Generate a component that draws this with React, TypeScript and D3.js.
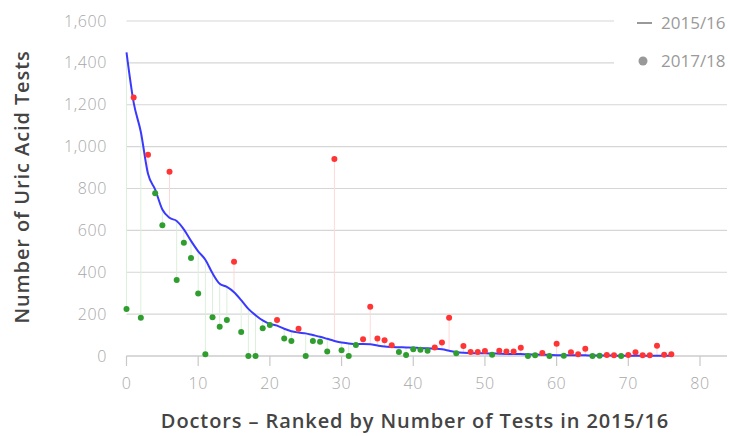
import React from "react";
import * as d3 from "d3";

// 2015/16 tests per doctor, ranked (the blue line)
const tests2015 = [
  1450, 1210, 1070, 870, 795, 700, 660, 645, 605, 550,
  500, 460, 395, 345, 330, 305, 267, 225, 195, 170,
  153, 145, 130, 118, 112, 108, 100, 92, 82, 72,
  64, 60, 57, 57, 56, 50, 45, 43, 42, 41,
  40, 38, 37, 35, 32, 25, 18, 15, 14, 13,
  13, 12, 11, 10, 10, 9, 8, 7, 6, 5,
  4, 4, 3, 3, 3, 2, 2, 2, 2, 1,
  1, 1, 1, 1, 1, 1, 1,
];

// 2017/18 tests for the same doctors (the dots)
const tests2017 = [
  224, 1235, 183, 961, 777, 624, 880, 363, 541, 468,
  298, 8, 185, 140, 172, 450, 115, 0, 0, 132,
  148, 172, 84, 72, 130, 0, 72, 68, 21, 941,
  27, 0, 53, 80, 235, 83, 75, 51, 19, 5,
  32, 30, 25, 41, 64, 183, 13, 48, 19, 19,
  24, 6, 25, 22, 21, 40, 0, 3, 14, 0,
  58, 1, 18, 8, 35, 0, 1, 5, 3, 0,
  5, 18, 3, 3, 49, 6, 8,
];

const xTicks = [0, 10, 20, 30, 40, 50, 60, 70, 80];
const yTicks = [0, 200, 400, 600, 800, 1000, 1200, 1400, 1600];
const seriesNames = ["2015/16", "2017/18"];

const W = 730;
const H = 436;
const FONT = "'Open Sans', 'Lato', sans-serif";

export default function App() {
  const x = d3.scaleLinear().domain([0, 80]).range([126.5, 700]);
  const y = d3.scaleLinear().domain([0, 1600]).range([356, 21]);
  const gridRight = 727;

  const line = d3
    .line<number>()
    .x((_, i) => x(i))
    .y(d => y(d))
    .curve(d3.curveMonotoneX);

  const green = "#2f9e2f";
  const red = "#ff3535";

  return (
    <svg
      width={W}
      height={H}
      style={{ position: "absolute", left: 0, top: 0, background: "#fff" }}
      fontFamily={FONT}
    >
      {/* grid */}
      {yTicks.map(t => (
        <line
          key={"g" + t}
          x1={x(0)}
          x2={gridRight}
          y1={y(t)}
          y2={y(t)}
          stroke="#d6d6d6"
          strokeWidth={1.2}
        />
      ))}
      {yTicks.map(t => (
        <text
          key={"yl" + t}
          x={107}
          y={y(t)}
          dy="0.35em"
          textAnchor="end"
          fill="#a8a8a8"
          fontSize={16}
          fontWeight={300}
          letterSpacing={0.6}
        >
          {d3.format(",")(t)}
        </text>
      ))}

      {/* x axis */}
      <line x1={x(0)} x2={gridRight} y1={y(0)} y2={y(0)} stroke="#c8c8c8" strokeWidth={1.2} />
      {xTicks.map(t => (
        <g key={"xt" + t}>
          <line x1={x(t)} x2={x(t)} y1={y(0)} y2={y(0) + 10} stroke="#c8c8c8" strokeWidth={1.2} />
          <text
            x={x(t)}
            y={383}
            dy="0.35em"
            textAnchor="middle"
            fill="#a8a8a8"
            fontSize={16}
            fontWeight={300}
            letterSpacing={0.6}
          >
            {t}
          </text>
        </g>
      ))}

      {/* stems */}
      {tests2017.map((v, i) => (
        <line
          key={"s" + i}
          x1={x(i)}
          x2={x(i)}
          y1={y(tests2015[i])}
          y2={y(v)}
          stroke={v > tests2015[i] ? "#ffd9d9" : "#dcefdc"}
          strokeWidth={1}
        />
      ))}

      {/* 2015/16 line */}
      <path d={line(tests2015) || ""} fill="none" stroke="#3a3aff" strokeWidth={2} />

      {/* 2017/18 dots */}
      {tests2017.map((v, i) => (
        <circle
          key={"d" + i}
          cx={x(i)}
          cy={y(v)}
          r={3}
          fill={v > tests2015[i] ? red : green}
        />
      ))}

      {/* legend */}
      <rect x={614} y={0} width={116} height={80} fill="#fff" />
      <line x1={637} x2={652} y1={23} y2={23} stroke="#999" strokeWidth={2} />
      <text x={661} y={23} dy="0.35em" fill="#9a9a9a" fontSize={17}>
        {seriesNames[0]}
      </text>
      <circle cx={643} cy={61} r={4.5} fill="#999" />
      <text x={661} y={61} dy="0.35em" fill="#9a9a9a" fontSize={17}>
        {seriesNames[1]}
      </text>

      {/* axis titles */}
      <text
        transform={`translate(22,187) rotate(-90)`}
        textAnchor="middle"
        dy="0.35em"
        fill="#444"
        fontSize={20}
        fontWeight={600}
        letterSpacing={0.9}
      >
        Number of Uric Acid Tests
      </text>
      <text
        x={415}
        y={421}
        dy="0.35em"
        textAnchor="middle"
        fill="#444"
        fontSize={20}
        fontWeight={600}
        letterSpacing={0.9}
      >
        Doctors – Ranked by Number of Tests in 2015/16
      </text>
    </svg>
  );
}
